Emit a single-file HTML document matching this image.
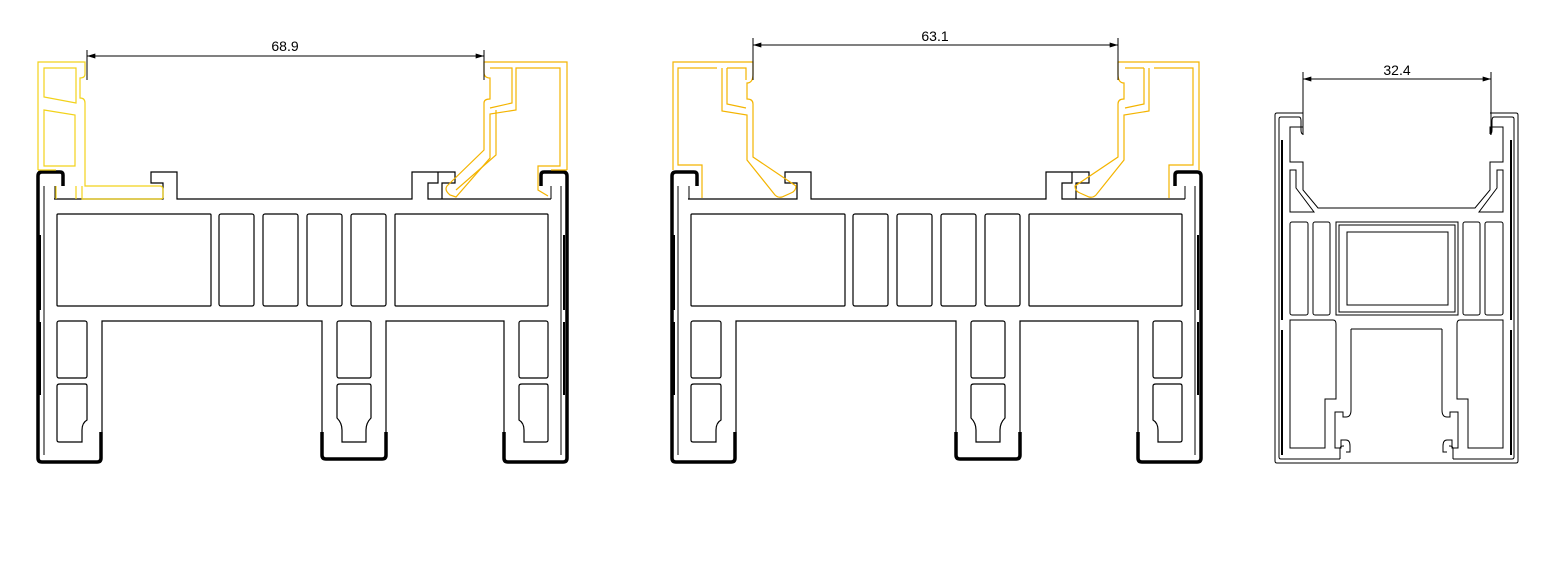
<!DOCTYPE html>
<html><head><meta charset="utf-8"><style>
html,body{margin:0;padding:0;background:#fff;}
svg{display:block;}
text{font-family:"Liberation Sans",sans-serif;font-size:14px;fill:#000;}
</style></head><body>
<svg width="1559" height="584" viewBox="0 0 1559 584" xmlns="http://www.w3.org/2000/svg">
<defs>
<marker id="ar" viewBox="0 0 10 6" refX="10" refY="3" markerWidth="14" markerHeight="5" orient="auto-start-reverse" markerUnits="userSpaceOnUse"><path d="M0,0 L10,3 L0,6z" fill="#000"/></marker>
<g id="body" fill="none" stroke="#000">
  <path stroke-width="1.2" d="M54,199 H163 V183 H151 V172 H177 V199 H412 V172 H438 V183 H428 V199 H442 V183 H455 V172 H428 M442,199 H551"/>
  <path stroke-width="3.5" d="M63,186 V175 Q63,172 60,172 H42 Q38,172 38,176 V458 Q38,462 42,462 H97 Q101,462 101,458 V432"/>
  <path stroke-width="3.5" d="M322,432 V455 Q322,459 326,459 H382 Q386,459 386,455 V432"/>
  <path stroke-width="3.5" d="M541,186 V175 Q541,172 544,172 H563 Q567,172 567,176 V458 Q567,462 563,462 H508 Q504,462 504,458 V432"/>
  <path stroke-width="1" d="M44,186 V455 M561,186 V455 M55,186 V199 M551,186 V199"/>
  <path stroke-width="2" d="M40,235 V310 M40,322 V395 M564,235 V310 M564,322 V395"/>
  <g stroke-width="1.2">
    <rect x="57" y="214" width="154" height="92" rx="1"/>
    <rect x="219" y="214" width="35" height="92" rx="2"/>
    <rect x="263" y="214" width="35" height="92" rx="2"/>
    <rect x="307" y="214" width="35" height="92" rx="2"/>
    <rect x="351" y="214" width="35" height="92" rx="2"/>
    <rect x="395" y="214" width="153" height="92" rx="1"/>
    <rect x="57" y="321" width="30" height="57" rx="2"/>
    <rect x="337" y="321" width="34" height="57" rx="2"/>
    <rect x="519" y="321" width="29" height="57" rx="2"/>
    <path d="M57,386 Q57,384 60,384 H85 Q87,384 87,386 V420 Q82,423 82,430 V442 H59 Q57,442 57,440 Z"/>
    <path d="M337,386 Q337,384 340,384 H369 Q371,384 371,386 V418 Q366,423 366,430 V442 H342 V430 Q342,423 337,418 Z"/>
    <path d="M519,386 Q519,384 522,384 H546 Q548,384 548,386 V440 Q548,442 546,442 H524 V430 Q524,423 519,420 Z"/>
    <path d="M102,432 V321 H322 V432 M386,432 V321 H504 V432"/>
  </g>
</g>
</defs>

<!-- PROFILE 1 -->
<use href="#body"/>
<g fill="none" stroke="#f2d21a" stroke-width="1.2">
  <path d="M38,170 V62 H85 V74 Q85,78 80,78 V98 Q85,98 85,103 V186 H160 Q163,186 163,190 V197 Q163,199 160,199 H82 V186 M76,186 V199 M56,186 V199"/>
  <path d="M44,166 V110 L75,115 V166 Z"/>
  <path d="M44,68 H76 V99 L76,103 L44,97 Z"/>
  <path d="M38,170 H56"/>
</g>
<g fill="none" stroke="#f4b400" stroke-width="1.2">
  <path d="M567,170 V62 H484 V72 Q484,78 490,78 V99 Q484,99 484,103 V150 L447,186 Q444,190 450,195 L456,197 L490,158 V114 L516,110 V68 H560 V166 H538 V190 L548,196 M551,170 H567"/>
  <path d="M490,68 H512 V103 L490,108"/>
  <path d="M496,110 L496,155 L456,190"/>
</g>
<line x1="87" y1="50" x2="87" y2="80" stroke="#000" stroke-width="1"/>
<line x1="484" y1="50" x2="484" y2="80" stroke="#000" stroke-width="1"/>
<line x1="87" y1="56" x2="484" y2="56" stroke="#000" stroke-width="1" marker-start="url(#ar)" marker-end="url(#ar)"/>
<text x="285" y="51" text-anchor="middle">68.9</text>

<!-- PROFILE 2 -->
<use href="#body" x="634"/>
<g fill="none" stroke="#f4b400" stroke-width="1.2">
  <path d="M673,170 V62 H753 V74 Q753,83 747,83 V99 Q753,99 753,104 V157 L796,186 Q796,191 791,193 L782,197 Q778,198 775,195 L747,160 V115 L722,111 V68 M717,68 H678 V165 H702 V198"/>
  <path d="M727,68 H746 V76 Q746,78 746,80 M727,68 V104 L746,108"/>
  <path d="M1199,170 V62 H1118 V74 Q1118,83 1124,83 V99 Q1118,99 1118,104 V157 L1075,186 Q1075,191 1080,193 L1089,197 Q1093,198 1096,195 L1124,160 V115 L1149,111 V68 M1154,68 H1193 V165 H1169 V198"/>
  <path d="M1144,68 H1125 M1144,68 V104 L1125,108"/>
</g>
<line x1="753" y1="38" x2="753" y2="80" stroke="#000" stroke-width="1"/>
<line x1="1118" y1="38" x2="1118" y2="80" stroke="#000" stroke-width="1"/>
<line x1="753" y1="45" x2="1118" y2="45" stroke="#000" stroke-width="1" marker-start="url(#ar)" marker-end="url(#ar)"/>
<text x="935" y="41" text-anchor="middle">63.1</text>

<!-- PROFILE 3 -->
<g fill="none" stroke="#000" stroke-width="1">
  <g id="half3">
    <path d="M1397,463 H1277 Q1275,463 1275,461 V115 Q1275,113 1277,113 H1303"/>
    <path d="M1340,459 H1281 Q1279,459 1279,457 V119 Q1279,117 1281,117 H1299 Q1301,117 1301,121 V130 Q1301,134 1303,134"/>
    <path d="M1282,140 V320 M1282,330 V455" stroke-width="2"/>
    <path d="M1303,134 V127 H1290 V162 H1303 V190 L1318,208 H1397"/>
    <path d="M1290,170 H1296 V188 L1314,212 H1290 Z"/>
    <rect x="1290" y="222" width="18" height="93" rx="2"/>
    <rect x="1313" y="222" width="17" height="93" rx="2"/>
    <path d="M1290,320 H1333 Q1336,320 1336,324 V399 H1325 V448 H1290 Z"/>
    <path d="M1351,329 H1397"/>
    <path d="M1351,329 V410 Q1351,417 1346,417 H1343 V412 H1335 V448 H1341 V440 H1346 Q1350,440 1350,446 V452 H1346"/>
    <path d="M1340,459 V449 Q1340,446 1343,446 H1344"/>
  </g>
  <use href="#half3" transform="translate(2793,0) scale(-1,1)"/>
  <rect x="1336" y="222" width="122" height="93"/>
  <rect x="1339" y="225" width="116" height="87"/>
  <rect x="1347" y="232" width="101" height="73"/>
</g>
<line x1="1303" y1="72" x2="1303" y2="135" stroke="#000" stroke-width="1"/>
<line x1="1491" y1="72" x2="1491" y2="135" stroke="#000" stroke-width="1"/>
<line x1="1303" y1="79" x2="1491" y2="79" stroke="#000" stroke-width="1" marker-start="url(#ar)" marker-end="url(#ar)"/>
<text x="1397" y="75" text-anchor="middle">32.4</text>
</svg>
</body></html>
